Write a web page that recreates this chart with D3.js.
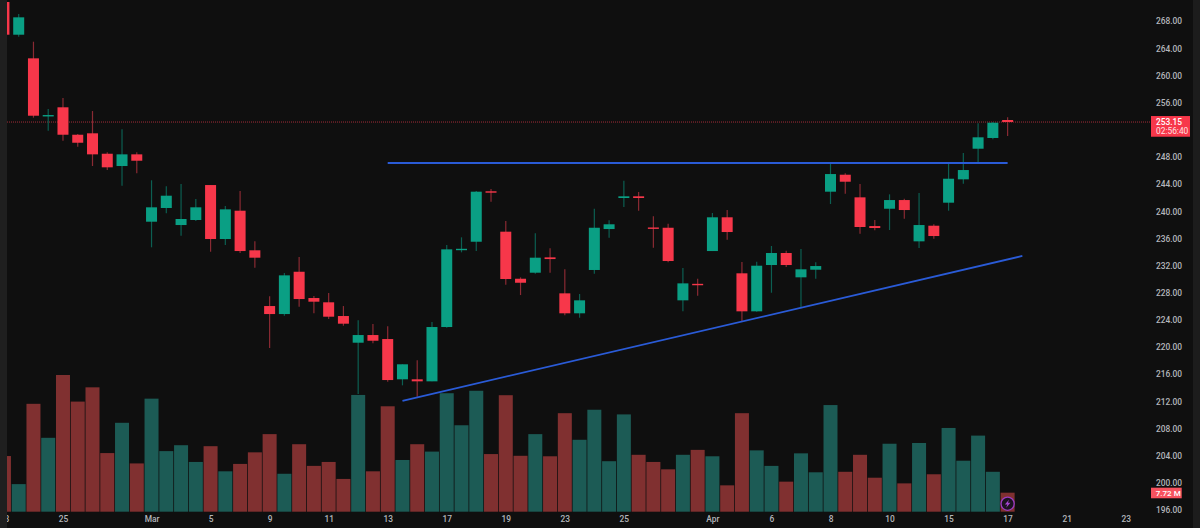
<!DOCTYPE html>
<html>
<head>
<meta charset="utf-8">
<title>Candlestick chart</title>
<script src="https://cdn.jsdelivr.net/npm/d3@7"></script>
<style>
    html, body { margin: 0; padding: 0; background: #0f0f0f; overflow: hidden; }
    svg { display: block; }
    text { font-family: Roboto, "Liberation Sans", sans-serif; }
</style>
</head>
<body>
<svg id="chart" width="1200" height="528"></svg>
<script>
// first candle is index -1, cut off by the left edge of the pane
const firstIndex = -1;
const opens = [270.83, 266.01, 262.53, 254.10, 255.32, 251.28, 251.49, 248.48, 246.67, 248.39,
    238.47, 240.49, 237.98, 238.72, 243.87, 235.92, 240.09, 234.26, 226.05, 224.87,
    231.10, 227.23, 226.60, 224.58, 220.65, 221.78, 221.19, 215.26, 215.26, 214.96,
    222.96, 234.32, 235.52, 242.95, 237.00, 230.07, 230.96, 233.22, 227.92, 224.98,
    231.36, 237.39, 241.96, 242.21, 237.62, 237.58, 226.89, 229.32, 234.15, 239.12,
    230.87, 225.27, 232.09, 233.86, 230.28, 231.40, 242.89, 245.39, 242.06, 237.83,
    240.38, 241.66, 235.58, 237.88, 241.27, 244.71, 249.22, 250.80, 253.45];
const closes = [266.01, 268.57, 254.08, 254.18, 251.28, 250.10, 248.39, 246.48, 248.39, 247.45,
    240.59, 242.30, 238.87, 240.59, 235.92, 240.29, 234.15, 233.17, 224.87, 230.57,
    227.08, 226.69, 224.48, 223.45, 221.78, 220.94, 215.15, 217.47, 214.96, 222.96,
    234.40, 234.48, 242.89, 242.75, 230.03, 229.48, 233.17, 232.97, 224.98, 226.89,
    237.58, 238.09, 242.21, 241.96, 237.50, 232.68, 229.39, 229.20, 239.12, 236.95,
    225.27, 231.99, 233.86, 232.09, 231.46, 231.94, 245.49, 244.36, 237.69, 237.54,
    241.66, 240.19, 237.98, 236.36, 244.80, 246.08, 250.90, 253.05, 253.15];
const highs = [270.83, 269.06, 264.98, 255.07, 256.69, 251.38, 254.77, 248.69, 252.08, 248.69,
    244.57, 243.68, 244.02, 241.81, 243.87, 240.78, 242.99, 235.58, 227.48, 230.91,
    233.27, 227.53, 227.97, 226.05, 223.95, 223.40, 223.06, 217.47, 218.05, 223.70,
    235.04, 236.17, 242.99, 243.28, 238.57, 230.28, 236.76, 234.55, 231.46, 227.82,
    240.38, 238.67, 244.51, 242.84, 239.26, 238.17, 231.65, 230.07, 239.75, 240.19,
    232.53, 232.58, 234.89, 234.20, 234.45, 232.49, 247.07, 245.60, 244.02, 238.72,
    242.50, 241.86, 242.69, 238.09, 247.07, 248.59, 252.96, 253.15, 253.84];
const lows = [266.01, 265.71, 253.79, 251.87, 250.40, 249.51, 246.67, 246.08, 243.77, 245.60,
    234.70, 239.71, 236.41, 238.57, 234.05, 235.04, 233.86, 231.69, 219.87, 224.62,
    225.95, 224.98, 224.14, 223.15, 213.09, 220.56, 214.90, 214.37, 212.69, 214.96,
    222.86, 233.96, 234.15, 241.41, 229.19, 227.67, 230.81, 230.96, 224.68, 224.33,
    230.81, 236.11, 240.63, 240.09, 234.64, 232.49, 225.27, 227.57, 234.15, 235.82,
    223.80, 225.21, 228.01, 231.80, 225.71, 230.07, 241.08, 242.59, 236.70, 237.20,
    237.25, 238.91, 234.60, 235.96, 240.09, 244.06, 247.16, 250.60, 251.09];
// volume in millions
const volumes = [22.6, 11.2, 43.8, 30.0, 55.5, 44.7, 50.5, 23.8, 36.1, 19.6,
    45.9, 24.6, 27.0, 20.2, 26.6, 16.4, 19.4, 24.1, 31.5, 15.4,
    27.4, 18.6, 20.2, 13.3, 47.4, 16.4, 42.8, 21.0, 27.4, 24.4,
    48.1, 35.1, 49.1, 23.4, 47.3, 22.7, 31.5, 22.5, 40.0, 29.2,
    41.4, 20.5, 39.5, 23.1, 20.2, 17.2, 23.1, 25.1, 22.5, 10.7,
    40.0, 24.9, 18.6, 12.2, 23.7, 16.0, 43.3, 16.2, 23.1, 13.8,
    27.6, 11.5, 27.9, 15.2, 34.0, 20.7, 30.9, 16.2, 7.72];

const priceTicks = [196, 200, 204, 208, 212, 216, 220, 224, 228, 232, 236, 240, 244, 248, 256, 260, 264, 268];
const dateIndexes = [-1, 3, 9, 13, 17, 21, 25, 29, 33, 37, 41, 47, 51, 55, 59, 63, 67, 71, 75];
const dateLabels = ['23', '25', 'Mar', '5', '9', '11', '13', '17', '19', '23', '25', 'Apr', '6', '8', '10', '15', '17', '21', '23'];

// drawn trend lines: [candle index, price]
const resistanceLine = [[25, 247.12], [67, 247.12]];
const supportLine = [[26, 212.1], [68, 233.42]];

const lastPrice = 253.15;
const lastPriceText = '253.15';
const countdownText = '02:56:40';
const lastVolumeText = '7.72 M';

const BG = '#0f0f0f';
const UP = '#0a9f84';
const DOWN = '#f7374a';
const UP_WICK = '#0c5f52';
const DOWN_WICK = '#8a2a33';
const UP_VOL = '#1c5b55';
const DOWN_VOL = '#803030';
const LINE_BLUE = '#2a5bd7';
const TICK = '#b4b6bb';

const candles = opens.map((o, i) => ({
    index: firstIndex + i,
    open: o,
    close: closes[i],
    high: highs[i],
    low: lows[i],
    volume: volumes[i],
    up: closes[i] >= o
}));

const x = d3.scaleLinear().domain([-1, 75]).range([3.94, 1125.7]);
const y = d3.scaleLinear().domain([196, 268]).range([510.08, 21.2]);
const yVol = d3.scaleLinear().domain([0, 100]).range([511.7, 265.4]);

const svg = d3.select('#chart');
svg.append('rect').attr('width', 1200).attr('height', 528).attr('fill', BG);

svg.append('defs').append('clipPath').attr('id', 'pane')
    .append('rect').attr('x', 7).attr('y', 0).attr('width', 1186).attr('height', 528);

const pane = svg.append('g').attr('clip-path', 'url(#pane)');

// Volume bars sit behind the candles
pane.append('g').selectAll('rect')
    .data(candles)
    .enter().append('rect')
    .attr('x', d => x(d.index) - 7)
    .attr('width', 14)
    .attr('y', d => yVol(d.volume))
    .attr('height', d => yVol(0) - yVol(d.volume))
    .attr('fill', d => d.up ? UP_VOL : DOWN_VOL);

// Last price line
pane.append('line')
    .attr('x1', 7).attr('x2', 1151)
    .attr('y1', y(lastPrice)).attr('y2', y(lastPrice))
    .attr('stroke', '#a02c38')
    .attr('stroke-width', 1)
    .attr('stroke-dasharray', '1 1');

// Wicks
pane.append('g').selectAll('line')
    .data(candles)
    .enter().append('line')
    .attr('x1', d => x(d.index)).attr('x2', d => x(d.index))
    .attr('y1', d => y(d.high)).attr('y2', d => y(d.low))
    .attr('stroke', d => d.up ? UP_WICK : DOWN_WICK)
    .attr('stroke-width', 1.2);

// Bodies
pane.append('g').selectAll('rect')
    .data(candles)
    .enter().append('rect')
    .attr('x', d => x(d.index) - 5.5)
    .attr('width', 11)
    .attr('y', d => y(Math.max(d.open, d.close)))
    .attr('height', d => Math.max(1.4, Math.abs(y(d.open) - y(d.close))))
    .attr('fill', d => d.up ? UP : DOWN);

// Trend lines
const trendLine = d3.line().x(d => x(d[0])).y(d => y(d[1]));
pane.append('path').attr('d', trendLine(resistanceLine))
    .attr('fill', 'none').attr('stroke', LINE_BLUE).attr('stroke-width', 2);
pane.append('path').attr('d', trendLine(supportLine))
    .attr('fill', 'none').attr('stroke', LINE_BLUE).attr('stroke-width', 1.8);

// Price axis
const priceAxis = d3.axisRight(y)
    .tickValues(priceTicks)
    .tickFormat(d3.format('.2f'))
    .tickSize(0)
    .tickPadding(0);
const priceAxisG = svg.append('g')
    .attr('transform', 'translate(1156,0)')
    .call(priceAxis);
priceAxisG.select('.domain').remove();
priceAxisG.selectAll('text')
    .attr('fill', TICK)
    .attr('font-size', 8.4)
    .attr('font-weight', 500)
    .style('font-family', 'Roboto, sans-serif');

// Time axis
const timeAxis = d3.axisBottom(x)
    .tickValues(dateIndexes)
    .tickFormat(d => dateLabels[dateIndexes.indexOf(d)])
    .tickSize(0)
    .tickPadding(0);
const timeAxisG = pane.append('g')
    .attr('transform', 'translate(0,516)')
    .call(timeAxis);
timeAxisG.select('.domain').remove();
timeAxisG.selectAll('text')
    .attr('fill', TICK)
    .attr('font-size', 8.4)
    .attr('font-weight', 500)
    .style('font-family', 'Roboto, sans-serif');

// Last price badge
const priceBadgeY = y(lastPrice) - 6;
svg.append('rect')
    .attr('x', 1151).attr('y', priceBadgeY)
    .attr('width', 39).attr('height', 20.7)
    .attr('fill', DOWN);
svg.append('text')
    .attr('x', 1156).attr('y', priceBadgeY + 8.9)
    .attr('fill', '#ffffff').attr('font-size', 8.4).attr('font-weight', 500)
    .text(lastPriceText);
svg.append('text')
    .attr('x', 1156).attr('y', priceBadgeY + 18)
    .attr('fill', '#ffe0e3').attr('font-size', 8.4)
    .text(countdownText);

// Last volume badge
const volBadgeY = yVol(volumes[volumes.length - 1]) - 5;
svg.append('rect')
    .attr('x', 1151).attr('y', volBadgeY)
    .attr('width', 30.7).attr('height', 10.6)
    .attr('fill', '#f7525f');
svg.append('text')
    .attr('x', 1155.8).attr('y', volBadgeY + 8.2)
    .attr('fill', '#ffffff').attr('font-size', 8).attr('font-weight', 500)
    .text(lastVolumeText);

// Lightning marker on the last bar
const marker = svg.append('g')
    .attr('transform', `translate(${x(candles[candles.length - 1].index)},503.7)`);
marker.append('circle')
    .attr('r', 6.6)
    .attr('fill', '#1b1320')
    .attr('stroke', '#9a3cc4')
    .attr('stroke-width', 1.3);
marker.append('path')
    .attr('d', 'M1.4,-4 L-2.8,0.7 L-0.3,0.7 L-1.4,4 L2.8,-0.9 L0.3,-0.9 Z')
    .attr('fill', '#a544d2');

// Side strips of the window
svg.append('rect').attr('x', 0).attr('y', 0).attr('width', 7).attr('height', 528).attr('fill', '#1f1f1f');
svg.append('rect').attr('x', 1193).attr('y', 0).attr('width', 7).attr('height', 528).attr('fill', '#1c1c1c');
</script>
</body>
</html>
